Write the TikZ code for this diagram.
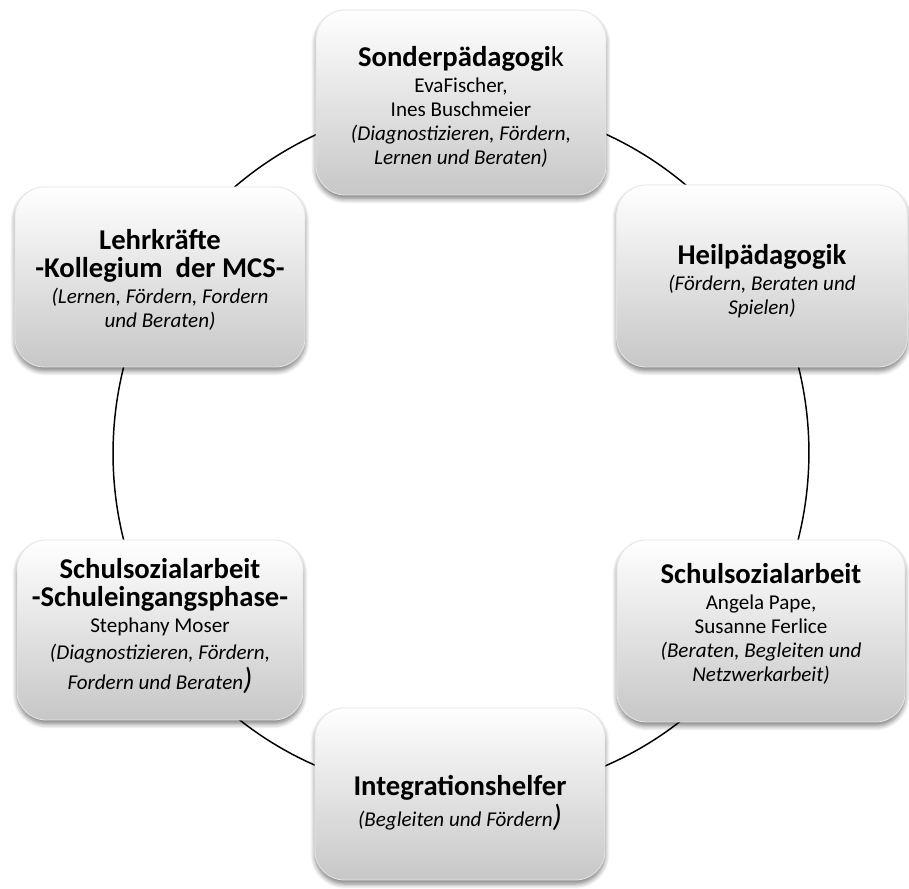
\documentclass[tikz,border=0pt]{standalone}
\usepackage{fontspec}
\setmainfont{Carlito}
\usetikzlibrary{shadows.blur,backgrounds}
\newcommand{\ttl}[1]{{\fontsize{21.5}{24}\selectfont\bfseries #1}}
\newcommand{\bigparen}{{\fontsize{23}{24}\selectfont\itshape)}}
\tikzset{
  box/.style 2 args={draw=black!10, line width=0.6pt, rounded corners=22pt,
    minimum width=#1, minimum height=#2,
    top color=white, middle color=white, bottom color=black!22,
    blur shadow={shadow xshift=0pt, shadow yshift=-3pt, shadow blur steps=6,
      shadow blur radius=3.5pt, shadow opacity=50}},
  txt/.style={align=center, font=\fontsize{15.8}{18}\selectfont, inner sep=0pt},
  ring/.style={draw=black, line width=1.1pt, bend left=30, looseness=0.91}
}
\begin{document}
\begin{tikzpicture}[x=0.75pt, y=0.75pt]
\useasboundingbox (0,0) rectangle (909,888);
% boxes
\node[box={217.5pt}{138.75pt}] (sp) at (461,785.5) {};
\node[box={218pt}{136.5pt}] (hp) at (762,612) {};
\node[box={217.5pt}{135pt}] (lk) at (160,611) {};
\node[box={214.5pt}{135pt}] (sl) at (160,258) {};
\node[box={216pt}{136.5pt}] (sr) at (761,257) {};
\node[box={217.5pt}{129pt}] (ih) at (460,94) {};
% texts
\node[txt] (sp-t) at (461,781) {\ttl{Sonderpädagogi}{\fontsize{21.5}{24}\selectfont k}\\[1.5pt]EvaFischer,\\Ines Buschmeier\\\textit{(Diagnostizieren, Fördern,}\\\textit{Lernen und Beraten)}};
\node[txt] (hp-t) at (762,607) {\ttl{Heilpädagogik}\\[1.5pt]\textit{(Fördern, Beraten und}\\\textit{Spielen)}};
\node[txt] (lk-t) at (160,608) {\ttl{Lehrkräfte}\\[3pt]\ttl{-Kollegium\ \ der MCS-}\\[1.5pt]\textit{(Lernen, Fördern, Fordern}\\\textit{und Beraten)}};
\node[txt] (sl-t) at (160,262) {\ttl{Schulsozialarbeit}\\[3pt]\ttl{-Schuleingangsphase-}\\[1.5pt]Stephany Moser\\[2pt]\textit{(Diagnostizieren, Fördern,}\\[2pt]\textit{Fordern und Beraten}\bigparen};
\node[txt] (sr-t) at (761,264) {\ttl{Schulsozialarbeit}\\[1.5pt]Angela Pape,\\Susanne Ferlice\\\textit{(Beraten, Begleiten und}\\\textit{Netzwerkarbeit)}};
\node[txt] (ih-t) at (460,85) {\ttl{Integrationshelfer}\\[2.5pt]\textit{(Begleiten und Fördern}\bigparen};
% ring connectors behind the boxes
\begin{scope}[on background layer]
\draw[ring] (sp.center) to (hp.center);
\draw[ring] (hp.center) to (sr.center);
\draw[ring] (sr.center) to (ih.center);
\draw[ring] (ih.center) to (sl.center);
\draw[ring] (sl.center) to (lk.center);
\draw[ring] (lk.center) to (sp.center);
\end{scope}
\end{tikzpicture}
\end{document}
